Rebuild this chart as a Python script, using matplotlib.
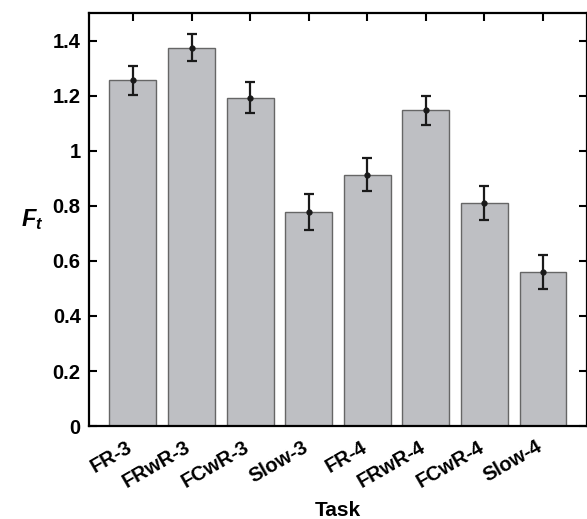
import numpy as np
import matplotlib
matplotlib.use("Agg")
import matplotlib.pyplot as plt
import matplotlib.transforms as mtransforms

# Data
tasks = ["FR-3", "FRwR-3", "FCwR-3", "Slow-3", "FR-4", "FRwR-4", "FCwR-4", "Slow-4"]
ft_mean = [1.255, 1.373, 1.193, 0.777, 0.913, 1.146, 0.810, 0.560]
ft_err = [0.053, 0.049, 0.055, 0.065, 0.059, 0.051, 0.061, 0.062]

plt.rcParams["font.family"] = "Liberation Sans"
plt.rcParams["font.weight"] = "bold"
plt.rcParams["mathtext.fontset"] = "custom"
plt.rcParams["mathtext.it"] = "Liberation Sans:italic:bold"
plt.rcParams["mathtext.rm"] = "Liberation Sans:bold"

fig = plt.figure(figsize=(5.87, 5.19), dpi=100)
ax = fig.add_axes([0.1516, 0.179, 0.8484, 0.796])

x = np.arange(1, len(tasks) + 1)
ax.bar(x, ft_mean, width=0.8, color="#bebfc3", edgecolor="#666666", linewidth=1.0, zorder=2)
ax.errorbar(x, ft_mean, yerr=ft_err, fmt="o", color="#1a1a1a", markersize=3.5,
            elinewidth=1.6, capsize=3.6, capthick=1.6, zorder=3)

ax.set_xlim(0.25, 8.75)
ax.set_ylim(0, 1.5)
ax.set_yticks([0, 0.2, 0.4, 0.6, 0.8, 1.0, 1.2, 1.4])
ax.set_yticklabels(["0", "0.2", "0.4", "0.6", "0.8", "1", "1.2", "1.4"])
ax.set_xticks(x)
ax.set_xticklabels(tasks, rotation=30, ha="right", rotation_mode="anchor")

ax.tick_params(direction="in", length=6, width=1.5, top=True, right=True,
               labelsize=14.5, pad=6)
ax.tick_params(axis="x", pad=8)
# nudge rotated labels left so they end just before the tick
shift = mtransforms.ScaledTranslation(-5 / 72, 0, fig.dpi_scale_trans)
for lbl in ax.get_xticklabels():
    lbl.set_transform(lbl.get_transform() + shift)
for sp in ax.spines.values():
    sp.set_linewidth(1.6)

ax.set_xlabel("Task", fontsize=15, fontweight="bold", labelpad=7)
ax.set_ylabel("$F_t$", fontsize=17, rotation=0, labelpad=15, va="center")

fig.savefig("out.png", dpi=100)
